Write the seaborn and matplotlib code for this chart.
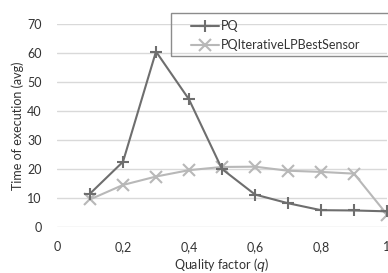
import matplotlib
matplotlib.use("Agg")
import matplotlib.pyplot as plt
from matplotlib.patches import Rectangle
import seaborn as sns
import pandas as pd

q = [0.1, 0.2, 0.3, 0.4, 0.5, 0.6, 0.7, 0.8, 0.9, 1.0]
pq = [11.5, 22.5, 60.5, 44.0, 20.0, 11.2, 8.2, 5.8, 5.7, 5.4]
pq_iter = [9.5, 14.5, 17.4, 19.6, 20.7, 20.8, 19.4, 19.0, 18.4, 4.3]
series_names = ["PQ", "PQIterativeLPBestSensor"]
xticks = [0, 0.2, 0.4, 0.6, 0.8, 1]
xticklabels = ["0", "0,2", "0,4", "0,6", "0,8", "1"]
yticks = [0, 10, 20, 30, 40, 50, 60, 70]

sns.set_theme(style="white")
plt.rcParams['font.family'] = ['Lato', 'DejaVu Sans']

W, H = 388, 273
fig = plt.figure(figsize=(3.88, 2.73), dpi=100)
ax = fig.add_axes([57/W, 1-227/H, (387-57)/W, (227-24)/H])

df = pd.DataFrame({"q": q + q, "t": pq + pq_iter,
                   "s": [series_names[0]]*len(q) + [series_names[1]]*len(q)})

c1, c2 = "#6e6e6e", "#b8b8b8"
sns.lineplot(data=df[df.s == series_names[0]], x="q", y="t", ax=ax, color=c1,
             marker="+", markersize=9, markeredgewidth=1.5, markeredgecolor=c1,
             linewidth=1.5, label=series_names[0], clip_on=False, zorder=3)
sns.lineplot(data=df[df.s == series_names[1]], x="q", y="t", ax=ax, color=c2,
             marker="x", markersize=8, markeredgewidth=1.5, markeredgecolor=c2,
             linewidth=1.5, label=series_names[1], clip_on=False, zorder=2)

ax.set_xlim(0, 1)
ax.set_ylim(0, 70)
ax.set_xticks(xticks)
ax.set_xticklabels(xticklabels)
ax.set_yticks(yticks)
ax.yaxis.grid(True, color="#d9d9d9", linewidth=1.0)
ax.xaxis.grid(False)
for sp in ax.spines.values():
    sp.set_visible(False)
ax.tick_params(axis="both", labelsize=9, colors="#333333", length=0)
ax.tick_params(axis="x", pad=10)
ax.tick_params(axis="y", pad=11)

ax.set_xlabel("Quality factor ($q$)", fontsize=9, color="#333333", labelpad=2)
ax.set_ylabel("Time of execution (avg)", fontsize=9, color="#333333", labelpad=2)

leg = ax.legend(loc="upper left", bbox_to_anchor=(191/W, 1-20/H),
                bbox_transform=fig.transFigure, fontsize=9, frameon=False,
                handlelength=2.2, handletextpad=0.15, labelspacing=0.58,
                borderpad=0, borderaxespad=0)
for t in leg.get_texts():
    t.set_color("#333333")

fig.patches.append(Rectangle((171/W, 1-56/H), 230/W, 43/H, transform=fig.transFigure,
                             facecolor="none", edgecolor="#8c8c8c", linewidth=1.0))

fig.savefig("out.png", dpi=100)
